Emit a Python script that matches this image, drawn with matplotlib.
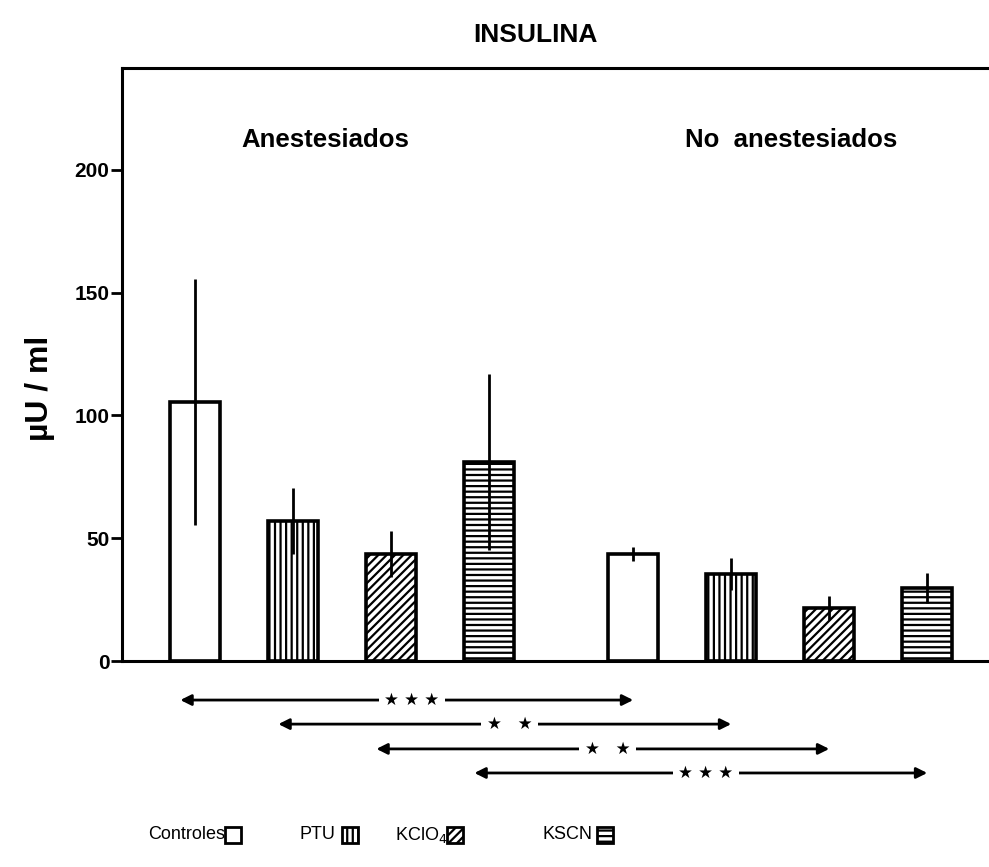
import matplotlib
matplotlib.use("Agg")
import matplotlib.pyplot as plt
from matplotlib.patches import Rectangle

plt.rcParams["font.family"] = ["Liberation Sans", "DejaVu Sans"]
plt.rcParams["hatch.linewidth"] = 1.6

GROUPS = ["Anestesiados", "No  anestesiados"]
TREAT = ["Controles", "PTU", "KClO$_4$", "KSCN"]
HATCH = ["", "|||", "////", "---"]
MEAN = [[105.5, 57, 43.6, 81], [43.6, 35.4, 21.6, 29.7]]
SEM = [[50, 13.5, 9.5, 36], [3, 6.5, 5, 6]]
SIG = ["★ ★ ★", "★   ★", "★   ★", "★ ★ ★"]
YTICKS = [0, 50, 100, 150, 200]
GAP = 4.47  # offset of second group, in bar slots

fig = plt.figure(figsize=(9.89, 8.67), dpi=100)
ax = fig.add_axes([0.1234, 0.2376, 0.8766, 0.684])

pos = [[g * GAP + i for i in range(len(TREAT))] for g in range(len(GROUPS))]
for g in range(len(GROUPS)):
    for i in range(len(TREAT)):
        ax.bar(pos[g][i], MEAN[g][i], 0.51, color="white", edgecolor="black",
               hatch=HATCH[i], linewidth=2.6, zorder=2)
        ax.errorbar(pos[g][i], MEAN[g][i], yerr=SEM[g][i], color="black",
                    lw=2, capsize=0, zorder=3)
    ax.text((pos[g][0] + pos[g][-1]) / 2 + (-0.17, 0.11)[g], 212, GROUPS[g],
            ha="center", va="center", fontsize=18.5, fontweight="bold")

ax.set_xlim(-0.745, 8.1)
ax.set_ylim(0, 241.5)
ax.set_xticks([])
ax.set_yticks(YTICKS)
ax.set_yticklabels([str(t) for t in YTICKS], fontsize=15, fontweight="bold")
ax.tick_params(axis="y", direction="out", length=8, width=2, pad=1)
ax.spines["right"].set_visible(False)
for s in ["left", "top", "bottom"]:
    ax.spines[s].set_linewidth(2.2)
ax.set_ylabel("µU / ml", fontsize=23, fontweight="bold")
ax.yaxis.set_label_coords(-0.077, 0.46)
fig.text(0.541, 0.96, "INSULINA", ha="center", va="center", fontsize=19,
         fontweight="bold")

# significance arrows under the axis
rows = [-15.9, -25.7, -35.8, -45.6]
for i in range(len(TREAT)):
    x0 = pos[0][i] - 0.15
    x1 = pos[1][i]
    y = rows[i]
    ax.annotate("", xy=(x1, y), xytext=(x0, y), annotation_clip=False,
                arrowprops=dict(arrowstyle="<|-|>", color="black", lw=2,
                                mutation_scale=16, shrinkA=0, shrinkB=0))
    ax.text((x0 + x1) / 2 + 0.05, y, SIG[i], ha="center", va="center",
            fontsize=12, clip_on=False,
            bbox=dict(facecolor="white", edgecolor="none", pad=4),
            family=["DejaVu Sans"])

# legend row
lx = [0.150, 0.303, 0.399, 0.549]
bx = [0.228, 0.346, 0.452, 0.604]
for i in range(len(TREAT)):
    fig.text(lx[i], 0.037, TREAT[i], ha="left", va="center", fontsize=13)
    fig.add_artist(Rectangle((bx[i], 0.028), 0.016, 0.018, transform=fig.transFigure,
                             facecolor="white", edgecolor="black", hatch=HATCH[i],
                             linewidth=2))

fig.savefig("out.png", dpi=100)
